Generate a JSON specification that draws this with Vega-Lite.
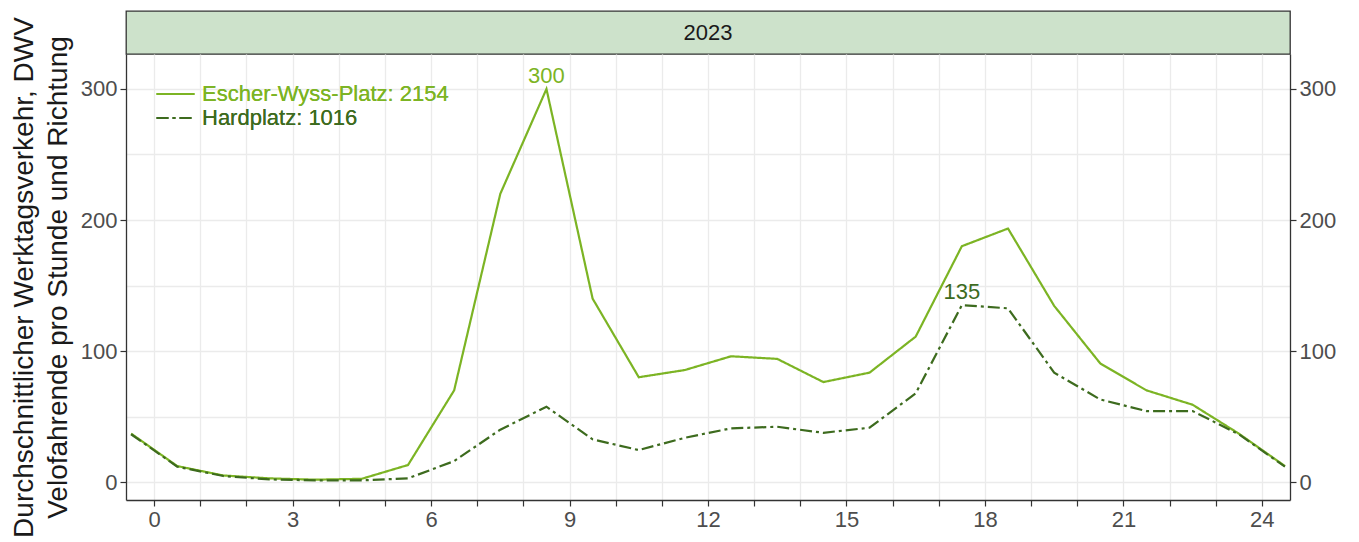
{
  "$schema": "https://vega.github.io/schema/vega-lite/v6.json",
  "background": "white",
  "padding": {"left": 10, "top": 10, "right": 5, "bottom": 5},
  "spacing": 0,
  "bounds": "flush",
  "config": {
    "font": "Liberation Sans",
    "view": {"stroke": null},
    "axis": {
      "labelFont": "Liberation Sans",
      "labelFontSize": 22,
      "labelColor": "#4d4d4d",
      "tickColor": "#333333",
      "tickSize": 6,
      "tickWidth": 1.2,
      "labelPadding": 3,
      "domainColor": "#333333",
      "domainWidth": 1.3,
      "gridColor": "#ebebeb",
      "gridWidth": 1.3,
      "titleFont": "Liberation Sans",
      "titleFontSize": 28,
      "titleFontWeight": "normal",
      "titleColor": "#1a1a1a"
    }
  },
  "resolve": {"legend": {"color": "independent", "strokeDash": "independent"}},
  "vconcat": [
    {
      "width": 1164,
      "height": 43,
      "view": {"fill": "#cde2cb", "stroke": "#333333", "strokeWidth": 1.3},
      "data": {"values": [{"jahr": "2023"}]},
      "mark": {"type": "text", "fontSize": 22, "color": "#1a1a1a", "baseline": "middle", "align": "center"},
      "encoding": {"text": {"field": "jahr", "type": "nominal"}}
    },
    {
      "width": 1164,
      "height": 446,
      "data": {"values": [
        {"stunde": -0.5, "standort": "Escher-Wyss-Platz: 2154", "wert": 37},
        {"stunde": 0.5, "standort": "Escher-Wyss-Platz: 2154", "wert": 12.2},
        {"stunde": 1.5, "standort": "Escher-Wyss-Platz: 2154", "wert": 5},
        {"stunde": 2.5, "standort": "Escher-Wyss-Platz: 2154", "wert": 2.8},
        {"stunde": 3.5, "standort": "Escher-Wyss-Platz: 2154", "wert": 1.8},
        {"stunde": 4.5, "standort": "Escher-Wyss-Platz: 2154", "wert": 2.5},
        {"stunde": 5.5, "standort": "Escher-Wyss-Platz: 2154", "wert": 13},
        {"stunde": 6.5, "standort": "Escher-Wyss-Platz: 2154", "wert": 70},
        {"stunde": 7.5, "standort": "Escher-Wyss-Platz: 2154", "wert": 220},
        {"stunde": 8.5, "standort": "Escher-Wyss-Platz: 2154", "wert": 300},
        {"stunde": 9.5, "standort": "Escher-Wyss-Platz: 2154", "wert": 140},
        {"stunde": 10.5, "standort": "Escher-Wyss-Platz: 2154", "wert": 80},
        {"stunde": 11.5, "standort": "Escher-Wyss-Platz: 2154", "wert": 85.5},
        {"stunde": 12.5, "standort": "Escher-Wyss-Platz: 2154", "wert": 96},
        {"stunde": 13.5, "standort": "Escher-Wyss-Platz: 2154", "wert": 94},
        {"stunde": 14.5, "standort": "Escher-Wyss-Platz: 2154", "wert": 76.3},
        {"stunde": 15.5, "standort": "Escher-Wyss-Platz: 2154", "wert": 83.5},
        {"stunde": 16.5, "standort": "Escher-Wyss-Platz: 2154", "wert": 111},
        {"stunde": 17.5, "standort": "Escher-Wyss-Platz: 2154", "wert": 180},
        {"stunde": 18.5, "standort": "Escher-Wyss-Platz: 2154", "wert": 193.5},
        {"stunde": 19.5, "standort": "Escher-Wyss-Platz: 2154", "wert": 134.5},
        {"stunde": 20.5, "standort": "Escher-Wyss-Platz: 2154", "wert": 90.5},
        {"stunde": 21.5, "standort": "Escher-Wyss-Platz: 2154", "wert": 70},
        {"stunde": 22.5, "standort": "Escher-Wyss-Platz: 2154", "wert": 59},
        {"stunde": 23.5, "standort": "Escher-Wyss-Platz: 2154", "wert": 37},
        {"stunde": 24.5, "standort": "Escher-Wyss-Platz: 2154", "wert": 12.2},
        {"stunde": -0.5, "standort": "Hardplatz: 1016", "wert": 36.5},
        {"stunde": 0.5, "standort": "Hardplatz: 1016", "wert": 11.7},
        {"stunde": 1.5, "standort": "Hardplatz: 1016", "wert": 4.6},
        {"stunde": 2.5, "standort": "Hardplatz: 1016", "wert": 2},
        {"stunde": 3.5, "standort": "Hardplatz: 1016", "wert": 1.3},
        {"stunde": 4.5, "standort": "Hardplatz: 1016", "wert": 1.3},
        {"stunde": 5.5, "standort": "Hardplatz: 1016", "wert": 2.8},
        {"stunde": 6.5, "standort": "Hardplatz: 1016", "wert": 16},
        {"stunde": 7.5, "standort": "Hardplatz: 1016", "wert": 40},
        {"stunde": 8.5, "standort": "Hardplatz: 1016", "wert": 57.5},
        {"stunde": 9.5, "standort": "Hardplatz: 1016", "wert": 32.6},
        {"stunde": 10.5, "standort": "Hardplatz: 1016", "wert": 24.4},
        {"stunde": 11.5, "standort": "Hardplatz: 1016", "wert": 33.8},
        {"stunde": 12.5, "standort": "Hardplatz: 1016", "wert": 41},
        {"stunde": 13.5, "standort": "Hardplatz: 1016", "wert": 42.2},
        {"stunde": 14.5, "standort": "Hardplatz: 1016", "wert": 37.6},
        {"stunde": 15.5, "standort": "Hardplatz: 1016", "wert": 41.5},
        {"stunde": 16.5, "standort": "Hardplatz: 1016", "wert": 67.7},
        {"stunde": 17.5, "standort": "Hardplatz: 1016", "wert": 135},
        {"stunde": 18.5, "standort": "Hardplatz: 1016", "wert": 132.6},
        {"stunde": 19.5, "standort": "Hardplatz: 1016", "wert": 83.5},
        {"stunde": 20.5, "standort": "Hardplatz: 1016", "wert": 63},
        {"stunde": 21.5, "standort": "Hardplatz: 1016", "wert": 54.2},
        {"stunde": 22.5, "standort": "Hardplatz: 1016", "wert": 54.2},
        {"stunde": 23.5, "standort": "Hardplatz: 1016", "wert": 36.5},
        {"stunde": 24.5, "standort": "Hardplatz: 1016", "wert": 11.7}
      ]},
      "resolve": {"axis": {"y": "independent"}},
      "layer": [
        {
          "mark": {"type": "line", "strokeWidth": 2.2, "clip": true},
          "encoding": {
            "x": {
              "field": "stunde", "type": "quantitative",
              "scale": {"domain": [-0.61, 24.61], "nice": false, "zero": false},
              "axis": {
                "title": null,
                "values": [0,1,2,3,4,5,6,7,8,9,10,11,12,13,14,15,16,17,18,19,20,21,22,23,24],
                "labelExpr": "datum.value % 3 === 0 ? datum.label : ''",
                "labelOverlap": false,
                "labelFlush": false,
                "grid": true
              }
            },
            "y": {
              "field": "wert", "type": "quantitative",
              "scale": {"domain": [-13.7, 326.7], "nice": false, "zero": false},
              "axis": {
                "orient": "left",
                "title": ["Durchschnittlicher Werktagsverkehr, DWV", "Velofahrende pro Stunde und Richtung"],
                "titleLineHeight": 34,
                "titlePadding": 8,
                "values": [0, 50, 100, 150, 200, 250, 300],
                "labelExpr": "datum.value % 100 === 0 ? datum.label : ''",
                "tickOpacity": {"condition": {"test": "datum.value % 100 === 0", "value": 1}, "value": 0},
                "grid": true
              }
            },
            "color": {
              "field": "standort", "type": "nominal",
              "scale": {"range": ["#7cb424", "#3d6b1e"]},
              "legend": {
                "orient": "none", "legendX": 38.5, "legendY": 29, "title": null, "padding": 0,
                "symbolType": "M-2,0H2", "symbolSize": 361, "symbolStrokeWidth": 2.2,
                "labelFontSize": 22, "labelFont": "Liberation Sans", "labelOffset": 15.5, "rowPadding": 2,
                "labelLimit": 400,
                "encode": {
                  "labels": {"update": {"fill": {"scale": "color", "field": "value"}}},
                  "symbols": {"update": {"stroke": {"scale": "color", "field": "value"}, "strokeDash": {"scale": "strokeDash", "field": "value"}}}
                }
              }
            },
            "strokeDash": {
              "field": "standort", "type": "nominal",
              "scale": {"range": [[1, 0], [12, 4, 3, 4]]},
              "legend": {
                "orient": "none", "legendX": 38.5, "legendY": 29, "title": null, "padding": 0,
                "symbolType": "M-2,0H2", "symbolSize": 361, "symbolStrokeWidth": 2.2,
                "labelFontSize": 22, "labelFont": "Liberation Sans", "labelOffset": 15.5, "rowPadding": 2,
                "labelLimit": 400,
                "encode": {
                  "labels": {"update": {"fill": {"scale": "color", "field": "value"}}},
                  "symbols": {"update": {"stroke": {"scale": "color", "field": "value"}, "strokeDash": {"scale": "strokeDash", "field": "value"}}}
                }
              }
            }
          }
        },
        {
          "transform": [
            {"joinaggregate": [{"op": "max", "field": "wert", "as": "maxwert"}], "groupby": ["standort"]},
            {"filter": "datum.wert === datum.maxwert"}
          ],
          "mark": {"type": "text", "fontSize": 22, "baseline": "alphabetic", "align": "center", "dy": -6},
          "encoding": {
            "x": {"field": "stunde", "type": "quantitative"},
            "y": {
              "field": "wert", "type": "quantitative",
              "axis": {"orient": "right", "title": null, "values": [0, 100, 200, 300], "grid": false}
            },
            "text": {"field": "wert", "type": "quantitative", "format": ".0f"},
            "color": {"field": "standort", "type": "nominal", "legend": null}
          }
        }
      ]
    }
  ]
}
